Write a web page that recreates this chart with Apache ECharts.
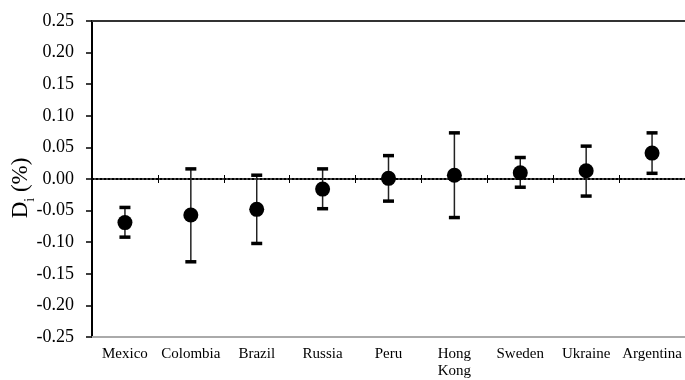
<!DOCTYPE html>
<html>
<head>
<meta charset="utf-8">
<script src="https://cdn.jsdelivr.net/npm/echarts@6/dist/echarts.min.js"></script>
<style>html,body{margin:0;padding:0;background:#fff}#c{width:685px;height:380px}</style>
</head>
<body>
<div id="c"></div>
<script>
var categories = ['Mexico', 'Colombia', 'Brazil', 'Russia', 'Peru', 'Hong\nKong', 'Sweden', 'Ukraine', 'Argentina'];
var means = [-0.069, -0.057, -0.048, -0.016, 0.001, 0.006, 0.010, 0.013, 0.041];
var upper = [-0.045, 0.016, 0.006, 0.016, 0.037, 0.073, 0.034, 0.052, 0.073];
var lower = [-0.092, -0.131, -0.102, -0.047, -0.035, -0.061, -0.013, -0.027, 0.009];
var yTicks = [-0.25, 0.25, 0.05];

var FONT = '"Liberation Serif", "Times New Roman", serif';
var chart = echarts.init(document.getElementById('c'), null, {renderer: 'canvas'});

var errData = categories.map(function (c, i) { return [i, lower[i], upper[i]]; });
var ptData = categories.map(function (c, i) { return [i, means[i]]; });

chart.setOption({
  animation: false,
  grid: {left: 92, right: 0, top: 21, bottom: 43, containLabel: false, outerBoundsMode: 'none'},
  xAxis: [
    {type: 'category', data: categories, position: 'bottom',
     axisLine: {onZero: false, lineStyle: {color: '#aaaaaa', width: 2}},
     axisTick: {show: false},
     axisLabel: {color: '#000', fontFamily: FONT, fontSize: 15, margin: 9, interval: 0, lineHeight: 17},
     splitLine: {show: false}},
    {type: 'category', data: categories, position: 'bottom',
     axisLine: {onZero: true, onZeroAxisIndex: 0, lineStyle: {color: '#000', width: 2, type: [2, 2]}},
     axisTick: {show: true, inside: true, length: 4, interval: 0, lineStyle: {color: '#000', width: 1}},
     axisLabel: {show: false}, splitLine: {show: false}},
    {type: 'category', data: categories, position: 'bottom',
     axisLine: {onZero: true, onZeroAxisIndex: 1, show: true, lineStyle: {color: '#000', opacity: 0}},
     axisTick: {show: true, inside: false, length: 4, interval: 0, lineStyle: {color: '#000', width: 1}},
     axisLabel: {show: false}, splitLine: {show: false}},
    {type: 'category', data: categories, position: 'top',
     axisLine: {onZero: false, lineStyle: {color: '#333', width: 2}},
     axisTick: {show: false}, axisLabel: {show: false}, splitLine: {show: false}}
  ],
  yAxis: [{
    type: 'value', min: yTicks[0], max: yTicks[1], interval: yTicks[2], position: 'left',
    axisLine: {show: true, onZero: false, lineStyle: {color: '#000', width: 2}},
    axisTick: {show: true, length: 6, lineStyle: {color: '#000', width: 1.5}},
    axisLabel: {color: '#000', fontFamily: FONT, fontSize: 18, margin: 18,
      formatter: function (v) { return v.toFixed(2); }},
    splitLine: {show: false},
    name: '{a|D}{b|i}{a| (%)}',
    nameLocation: 'middle', nameGap: 58, nameRotate: 90, nameMoveOverlap: false,
    nameTextStyle: {
      padding: [0, 18, 0, 0],
      rich: {
        a: {fontFamily: FONT, fontSize: 23, color: '#000', lineHeight: 26},
        b: {fontFamily: FONT, fontSize: 14, color: '#000', lineHeight: 14, verticalAlign: 'bottom', padding: [0, 0, -3, 0]}
      }
    }
  }, {
    type: 'value', min: yTicks[0], max: yTicks[1], interval: yTicks[2], position: 'right',
    axisLine: {show: false}, axisTick: {show: false}, axisLabel: {show: false}, splitLine: {show: false}
  }],
  series: [
    {
      type: 'custom', xAxisIndex: 0, yAxisIndex: 0, data: errData, z: 2,
      renderItem: function (params, api) {
        var x = api.value(0);
        var lo = api.coord([x, api.value(1)]);
        var hi = api.coord([x, api.value(2)]);
        var hw = 5.5;
        return {
          type: 'group',
          children: [
            {type: 'line', shape: {x1: lo[0], y1: lo[1], x2: hi[0], y2: hi[1]}, style: {stroke: '#222', lineWidth: 1.5}},
            {type: 'line', shape: {x1: lo[0] - hw, y1: lo[1], x2: lo[0] + hw, y2: lo[1]}, style: {stroke: '#000', lineWidth: 3.5}},
            {type: 'line', shape: {x1: hi[0] - hw, y1: hi[1], x2: hi[0] + hw, y2: hi[1]}, style: {stroke: '#000', lineWidth: 3.5}}
          ]
        };
      }
    },
    {
      type: 'scatter', xAxisIndex: 0, yAxisIndex: 0, data: ptData, symbol: 'circle', symbolSize: 15, z: 3,
      itemStyle: {color: '#000', opacity: 1}
    }
  ]
});
</script>
</body>
</html>
